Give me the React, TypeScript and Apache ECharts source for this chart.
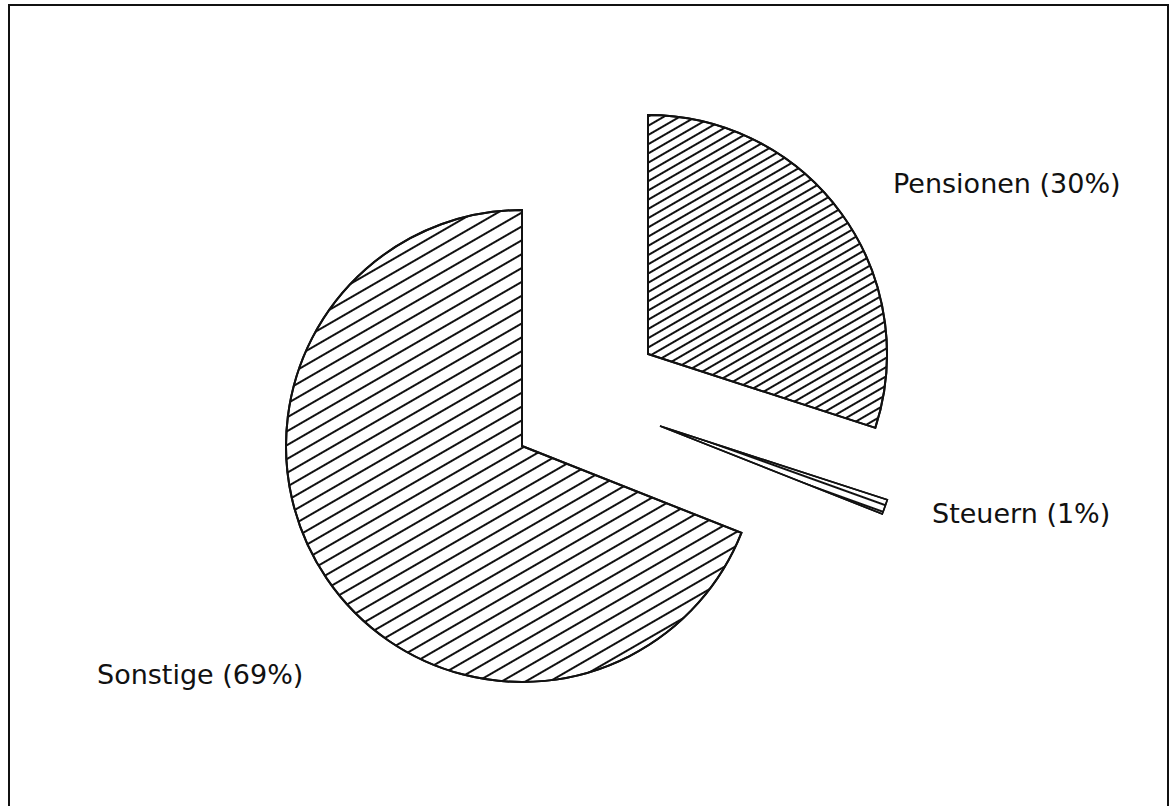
import React, { useEffect, useRef } from "react";
import * as echarts from "echarts";

// Data
const categories: string[] = ["Pensionen", "Steuern", "Sonstige"];
const values: number[] = [30, 1, 69];

const FONT = "DejaVu Sans";

function makeSeries(
  visibleIndex: number,
  center: [number, number],
  radius: number,
  decal: any,
  labelPos: [number, number],
  borderWidth: number
) {
  return {
    type: "pie",
    center,
    radius,
    startAngle: 90,
    clockwise: true,
    silent: true,
    avoidLabelOverlap: false,
    label: { show: false },
    labelLine: { show: false },
    emphasis: { disabled: true },
    labelLayout: {
      x: labelPos[0],
      y: labelPos[1],
      align: "left",
      verticalAlign: "middle",
    },
    data: categories.map((name, i) =>
      i === visibleIndex
        ? {
            name,
            value: values[i],
            itemStyle: {
              color: "#ffffff",
              borderColor: "#111111",
              borderWidth,
              borderJoin: "miter",
              decal,
            },
            label: {
              show: true,
              position: "outside",
              formatter: "{b} ({d}%)",
              fontFamily: FONT,
              fontSize: 27,
              color: "#111111",
            },
            labelLine: { show: false },
          }
        : {
            name,
            value: values[i],
            itemStyle: { color: "rgba(0,0,0,0)", borderWidth: 0 },
            label: { show: false },
            labelLine: { show: false },
          }
    ),
  };
}

export default function App() {
  const ref = useRef<HTMLDivElement>(null);
  useEffect(() => {
    const chart = echarts.init(ref.current!, null, { renderer: "svg" });
    const hatchP = {
      symbol: "rect",
      symbolSize: 1,
      color: "#111111",
      dashArrayX: [1, 0],
      dashArrayY: [1.3, 5.2],
      rotation: -Math.PI / 6,
    };
    const hatchS = {
      symbol: "rect",
      symbolSize: 1,
      color: "#111111",
      dashArrayX: [1, 0],
      dashArrayY: [1.7, 9.5],
      rotation: -Math.PI / 6,
    };
    const hatchT = {
      symbol: "rect",
      symbolSize: 1,
      color: "#111111",
      dashArrayX: [1, 0],
      dashArrayY: [1.2, 4.5],
      rotation: 0.345,
    };
    chart.setOption({
      animation: false,
      backgroundColor: "#ffffff",
      graphic: [
        {
          type: "rect",
          shape: { x: 9, y: 5, width: 1159, height: 840 },
          style: { fill: "none", stroke: "#111111", lineWidth: 2 },
          silent: true,
        },
      ],
      series: [
        makeSeries(0, [648, 354], 239, hatchP, [893, 183], 2),
        makeSeries(1, [660, 426], 239, hatchT, [932, 513], 1.6),
        makeSeries(2, [522, 446], 236, hatchS, [97, 674], 2),
      ],
    });
    return () => chart.dispose();
  }, []);
  return (
    <div
      ref={ref}
      style={{ position: "fixed", left: 0, top: 0, width: 1176, height: 806 }}
    />
  );
}
